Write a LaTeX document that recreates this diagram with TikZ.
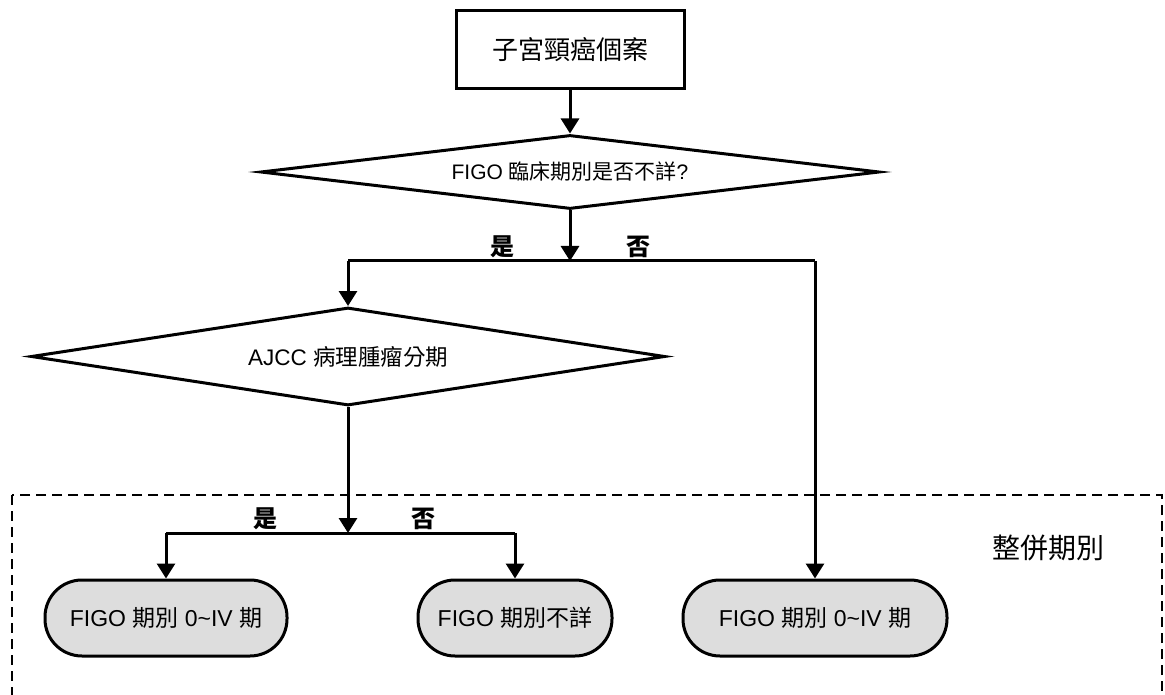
\documentclass[tikz,border=0pt]{standalone}
\usepackage{fontspec}
\setmainfont{Liberation Sans}
\newfontfamily\cjk{Noto Sans CJK TC}
\usetikzlibrary{arrows.meta,shapes.geometric}
\definecolor{nodegray}{HTML}{DDDDDD}
\tikzset{
  conn/.style={line width=3pt},
  arr/.style={line width=3pt,-{Triangle[width=18pt,length=15pt]}},
  startbox/.style={draw,line width=3pt,minimum width=228pt,minimum height=78pt,inner sep=0pt,font=\fontsize{26}{30}\selectfont},
  dia/.style={draw,shape=diamond,line width=3pt,inner sep=0pt},
  term/.style={draw,fill=nodegray,line width=3pt,rounded corners=37pt,minimum height=76pt,inner sep=0pt,font=\fontsize{23}{27}\selectfont},
  lbl/.style={inner sep=0pt,anchor=south,font=\fontsize{24}{28}\selectfont\cjk\bfseries},
  groupbox/.style={draw,line width=2pt,dash pattern=on 10pt off 6pt}
}
\begin{document}
\begin{tikzpicture}[x=1pt,y=-1pt]
\useasboundingbox (0,0) rectangle (1165,695);
% group box
\draw[groupbox] (12,495) rectangle (1162,730);
\node[inner sep=0pt,font=\fontsize{28}{32}\selectfont\cjk] (grp) at (1048,548) {整併期別};
% nodes
\node[startbox] (start) at (570,50) {\cjk 子宮頸癌個案};
\node[dia,aspect=8.3,minimum width=619pt,minimum height=74pt,font=\fontsize{21}{25}\selectfont] (d1) at (570,172) {FIGO {\cjk 臨床期別是否不詳}?};
\node[dia,aspect=6.46,minimum width=634pt,minimum height=98pt,font=\fontsize{22.5}{26}\selectfont] (d2) at (348,356.5) {AJCC {\cjk 病理腫瘤分期}};
\node[term,minimum width=242pt] (n1) at (166,618) {FIGO {\cjk 期別} 0\textasciitilde IV {\cjk 期}};
\node[term,minimum width=194pt] (n2) at (515,618) {FIGO {\cjk 期別不詳}};
\node[term,minimum width=264pt] (n3) at (815,618) {FIGO {\cjk 期別} 0\textasciitilde IV {\cjk 期}};
% junction coordinates
\coordinate (j1) at (570,261);
\coordinate (c1l) at (348,261);
\coordinate (c1r) at (815,261);
\coordinate (j2) at (348,533);
\coordinate (c2l) at (166,533);
\coordinate (c2r) at (515,533);
% connectors
\draw[arr] (start.south) -- (d1.north);
\draw[arr] (d1.south) -- (j1);
\draw[conn] (c1l) -- (c1r);
\draw[arr] (c1l) -- (d2.north);
\draw[arr] (c1r) -- (n3.north);
\draw[arr] (d2.south) -- (j2);
\draw[conn] (c2l) -- (c2r);
\draw[arr] (c2l) -- (n1.north);
\draw[arr] (c2r) -- (n2.north);
% labels
\node[lbl] (y1) at (502,258) {是};
\node[lbl] (no1) at (638,258) {否};
\node[lbl] (y2) at (265,530) {是};
\node[lbl] (no2) at (423,530) {否};
\end{tikzpicture}
\end{document}
